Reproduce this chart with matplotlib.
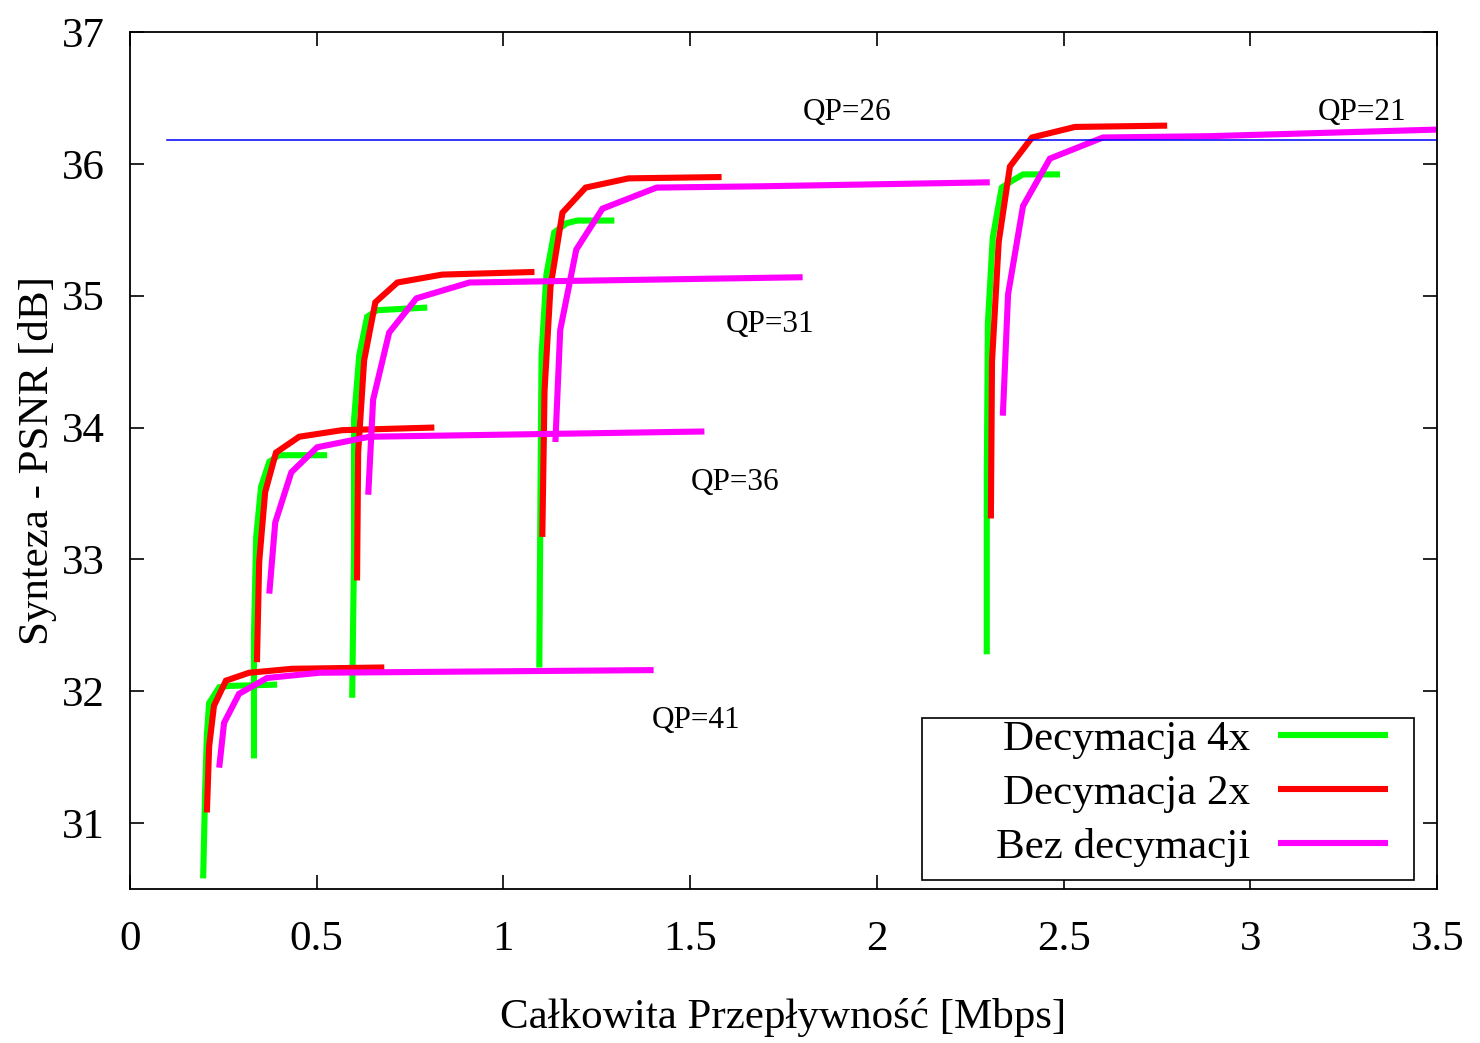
import matplotlib
matplotlib.use('Agg')
import matplotlib.pyplot as plt
from matplotlib.patches import Rectangle
import numpy as np

plt.rcParams['font.family'] = ['Liberation Serif', 'DejaVu Serif']

# data, one curve per QP (41, 36, 31, 26, 21)
qp_values = [41, 36, 31, 26, 21]

dec4_rate = [
    [0.196, 0.201, 0.206, 0.212, 0.239, 0.265, 0.394],
    [0.332, 0.332, 0.338, 0.351, 0.373, 0.399, 0.528],
    [0.595, 0.600, 0.600, 0.614, 0.635, 0.662, 0.796],
    [1.096, 1.099, 1.102, 1.115, 1.136, 1.169, 1.198, 1.297],
    [2.294, 2.294, 2.297, 2.310, 2.334, 2.361, 2.391, 2.490],
]
dec4_psnr = [
    [30.58, 31.21, 31.67, 31.91, 32.03, 32.04, 32.05],
    [31.49, 32.41, 33.17, 33.55, 33.74, 33.79, 33.79],
    [31.95, 33.07, 34.06, 34.55, 34.84, 34.89, 34.91],
    [32.18, 33.45, 34.55, 35.16, 35.48, 35.55, 35.57, 35.57],
    [32.28, 33.60, 34.79, 35.44, 35.82, 35.87, 35.92, 35.92],
]

dec2_rate = [
    [0.206, 0.212, 0.225, 0.257, 0.319, 0.434, 0.681],
    [0.340, 0.346, 0.362, 0.391, 0.453, 0.568, 0.815],
    [0.608, 0.611, 0.627, 0.657, 0.716, 0.836, 1.083],
    [1.104, 1.110, 1.126, 1.158, 1.220, 1.335, 1.584],
    [2.305, 2.308, 2.326, 2.356, 2.415, 2.530, 2.777],
]
dec2_psnr = [
    [31.08, 31.58, 31.89, 32.08, 32.14, 32.17, 32.18],
    [32.22, 32.98, 33.51, 33.81, 33.93, 33.98, 34.00],
    [32.84, 33.81, 34.51, 34.95, 35.10, 35.16, 35.18],
    [33.17, 34.28, 35.07, 35.63, 35.82, 35.89, 35.90],
    [33.31, 34.50, 35.41, 35.98, 36.20, 36.28, 36.29],
]

full_rate = [
    [0.239, 0.252, 0.292, 0.367, 0.507, 1.402],
    [0.373, 0.389, 0.432, 0.501, 0.641, 1.538],
    [0.638, 0.651, 0.694, 0.767, 0.909, 1.801],
    [1.139, 1.152, 1.195, 1.265, 1.410, 1.694, 2.302],
    [2.337, 2.351, 2.391, 2.463, 2.605, 2.892, 3.500],
]
full_psnr = [
    [31.42, 31.76, 31.98, 32.10, 32.14, 32.16],
    [32.74, 33.28, 33.66, 33.85, 33.93, 33.97],
    [33.49, 34.21, 34.72, 34.98, 35.10, 35.14],
    [33.89, 34.74, 35.35, 35.66, 35.82, 35.83, 35.86],
    [34.09, 35.01, 35.68, 36.04, 36.20, 36.21, 36.26],
]

ref_rate = [0.1, 3.5]
ref_psnr = [36.18, 36.18]

qp_label_x = [1.517, 1.619, 1.715, 1.919, 3.299]
qp_label_y = [31.78, 33.58, 34.78, 36.39, 36.39]

fig = plt.figure(figsize=(14.8, 10.43), dpi=100)
ax = fig.add_axes([0.0878, 0.1477, 0.8833, 0.8216])

series = [
    (dec4_rate, dec4_psnr, '#00ff00', 'Decymacja 4x'),
    (dec2_rate, dec2_psnr, '#ff0000', 'Decymacja 2x'),
    (full_rate, full_psnr, '#ff00ff', 'Bez decymacji'),
]
for rates, psnrs, colour, name in series:
    for i in range(len(rates)):
        ax.plot(rates[i], psnrs[i], color=colour, lw=4.4,
                solid_capstyle='butt', solid_joinstyle='miter',
                label=name if i == 0 else '_nolegend_')

ax.plot(ref_rate, ref_psnr, color='#0000ff', lw=1.1, label='_nolegend_')

for qp, tx, ty in zip(qp_values, qp_label_x, qp_label_y):
    ax.text(tx, ty, 'QP={}'.format(qp), fontsize=22.5, ha='center', va='center')

ax.set_xlim(0, 3.5)
ax.set_ylim(30.5, 37)
ax.set_xticks(np.arange(0, 3.51, 0.5))
ax.set_xticklabels(['0', '0.5', '1', '1.5', '2', '2.5', '3', '3.5'])
ax.set_yticks(np.arange(31, 37.1, 1))
ax.tick_params(direction='in', length=10, width=1.2, top=True, right=True,
               labelsize=31)
ax.tick_params(axis='x', pad=23)
ax.tick_params(axis='y', pad=18)
for s in ax.spines.values():
    s.set_linewidth(1.3)

ax.set_xlabel('Całkowita Przepływność [Mbps]', fontsize=31, labelpad=28)
ax.set_ylabel('Synteza - PSNR [dB]', fontsize=31, labelpad=4)

# legend frame (gnuplot style, wider than its content)
ax.add_patch(Rectangle((0.606, 0.0105), 0.376, 0.189, transform=ax.transAxes,
                       facecolor='white', edgecolor='black', lw=1.2, zorder=5))
leg = ax.legend(loc='center right', bbox_to_anchor=(0.9625, 0.1114),
                borderaxespad=0, borderpad=0, markerfirst=False, fontsize=31,
                handlelength=2.55, handletextpad=0.65, labelspacing=0.34,
                frameon=False)
leg.set_zorder(6)

fig.savefig('out.png', dpi=100)
